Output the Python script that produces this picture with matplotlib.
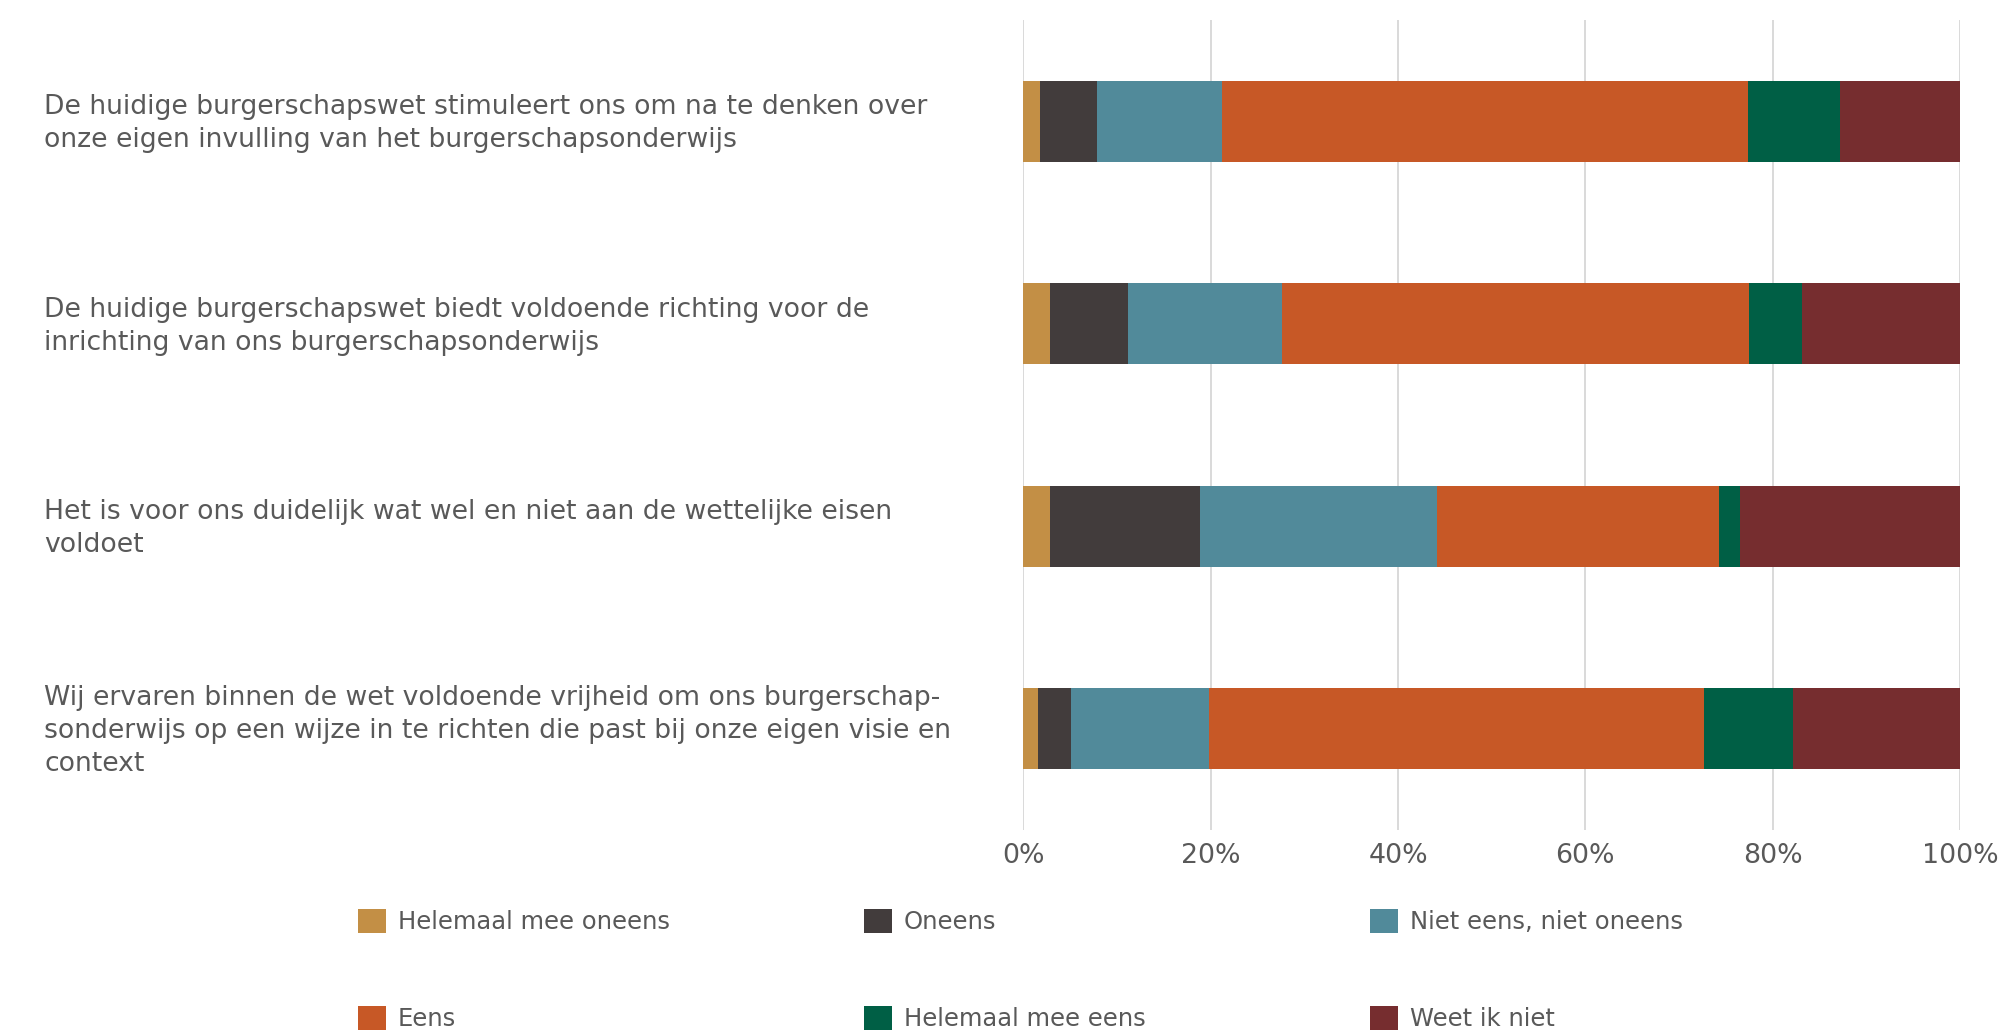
import matplotlib
import matplotlib.pyplot as plt
import numpy as np
from matplotlib.patches import Patch
from matplotlib.ticker import PercentFormatter
from matplotlib.transforms import ScaledTranslation

matplotlib.use("Agg")

# Survey statements (top to bottom) and answer shares in percent
statements = [
    "De huidige burgerschapswet stimuleert ons om na te denken over\n"
    "onze eigen invulling van het burgerschapsonderwijs",
    "De huidige burgerschapswet biedt voldoende richting voor de\n"
    "inrichting van ons burgerschapsonderwijs",
    "Het is voor ons duidelijk wat wel en niet aan de wettelijke eisen\n"
    "voldoet",
    "Wij ervaren binnen de wet voldoende vrijheid om ons burgerschap-\n"
    "sonderwijs op een wijze in te richten die past bij onze eigen visie en\n"
    "context",
]
answers = [
    "Helemaal mee oneens",
    "Oneens",
    "Niet eens, niet oneens",
    "Eens",
    "Helemaal mee eens",
    "Weet ik niet",
]
helemaal_oneens = [1.8, 2.8, 2.8, 1.6]
oneens = [6.1, 8.4, 16.1, 3.5]
neutraal = [13.3, 16.4, 25.3, 14.7]
eens = [56.2, 49.9, 30.1, 52.9]
helemaal_eens = [9.8, 5.6, 2.2, 9.5]
weet_niet = [12.8, 16.9, 23.5, 17.8]
shares = [helemaal_oneens, oneens, neutraal, eens, helemaal_eens, weet_niet]

colors = ["#C38F45", "#423C3C", "#518A9A", "#C75826", "#005F45", "#762D2F"]
TEXT = "#595959"
LABEL_FS = 19.2
TICK_FS = 19.3
LEGEND_FS = 17.5

fig = plt.figure(figsize=(19.99, 10.35), dpi=100)
ax = fig.add_axes([0.512, 0.198, 0.4684, 0.7827])

y = np.arange(len(statements))
left = np.zeros(len(statements))
for vals, col, name in zip(shares, colors, answers):
    vals = np.array(vals)
    ax.barh(y, vals, left=left, height=0.4, color=col, label=name, zorder=3)
    left += vals

ax.set_xlim(0, 100)
ax.set_ylim(len(statements) - 0.5, -0.5)
ax.xaxis.set_major_formatter(PercentFormatter(decimals=0))
ax.set_xticks(np.arange(0, 101, 20))
ax.grid(axis="x", color="#D9D9D9", linewidth=1.4, zorder=0)
for s in ax.spines.values():
    s.set_visible(False)

ax.set_yticks(y)
ax.set_yticklabels(statements, ha="left", multialignment="left",
                   linespacing=1.35)
ax.tick_params(axis="y", length=0, pad=705, labelsize=LABEL_FS,
               labelcolor=TEXT)
ax.tick_params(axis="x", length=0, pad=9, labelsize=TICK_FS, labelcolor=TEXT)

# nudge the statement text up a little so it sits centred on the bars
nudge = ScaledTranslation(0, 4 / 100, fig.dpi_scale_trans)
for lbl in ax.get_yticklabels():
    lbl.set_transform(lbl.get_transform() + nudge)

# Legend laid out as three columns of two entries
handles = [Patch(facecolor=c, edgecolor="none") for c in colors]
col_x = [358, 864, 1370]
for i, x0 in enumerate(col_x):
    fig.legend(
        [handles[i], handles[i + 3]], [answers[i], answers[i + 3]],
        loc="upper left", bbox_to_anchor=(x0 / 1999, 1 - 909 / 1035),
        frameon=False, fontsize=LEGEND_FS, labelcolor=TEXT,
        borderpad=0, borderaxespad=0, handlelength=1.15, handleheight=1.15,
        handletextpad=0.5, labelspacing=2.95,
    )

fig.savefig("out.png", dpi=100, facecolor="white")
plt.close(fig)
